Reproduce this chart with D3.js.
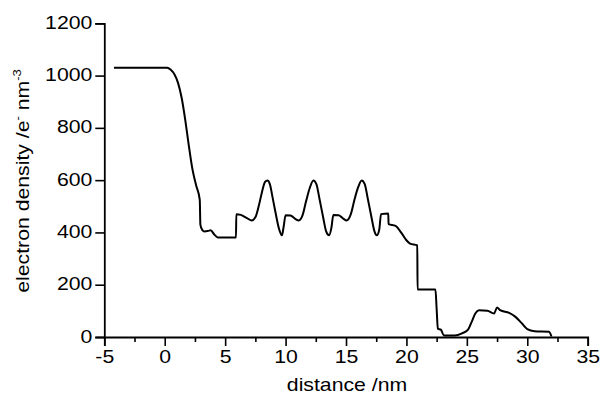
<!DOCTYPE html>
<html>
<head>
<meta charset="utf-8">
<script src="https://cdn.jsdelivr.net/npm/d3@7"></script>
<style>
  html, body { margin: 0; padding: 0; background: #fff; }
  svg { display: block; }
  text { font-family: "Liberation Sans", Arial, Helvetica, sans-serif; fill: #000; }
</style>
</head>
<body>
<svg id="chart" width="600" height="396"></svg>
<script>
// ---- data ----
const distance = [-4.2, 0.2, 0.5, 0.8, 1.1, 1.4, 1.7, 2.0, 2.3, 2.6, 2.9, 2.95, 3.1, 3.3, 3.6, 3.8, 4.1, 4.4, 5.9, 5.92,
  6.3, 6.8, 7.2, 7.5, 7.8, 8.05, 8.3, 8.5, 8.7, 8.9, 9.15, 9.45, 9.7, 9.85, 10.0, 10.4, 10.8, 11.1, 11.4, 11.7,
  12.0, 12.3, 12.55, 12.8, 13.1, 13.35, 13.6, 13.8, 13.95, 14.4, 14.8, 15.05, 15.4, 15.7, 16.0, 16.3, 16.55, 16.8,
  17.1, 17.35, 17.55, 17.75, 17.9, 18.5, 18.52, 19.1, 19.6, 20.0, 20.3, 20.9, 20.92, 22.4, 22.5, 22.6, 22.85,
  23.1, 24.0, 24.6, 25.1, 25.4, 25.7, 26.0, 26.7, 27.25, 27.5, 27.75, 28.5, 29.0, 29.5, 30.0, 30.6, 31.8, 32.0];
const density = [1030, 1030, 1022, 1005, 972, 915, 830, 730, 640, 580, 525, 430, 410, 404, 406, 408, 392, 381, 381, 470,
  467, 455, 446, 458, 505, 555, 593, 599, 585, 540, 480, 415, 389, 425, 466, 465, 452, 446, 465, 520,
  570, 599, 585, 530, 460, 405, 389, 420, 467, 466, 452, 446, 470, 525, 572, 599, 585, 530,
  460, 405, 389, 410, 470, 472, 432, 425, 397, 370, 357, 350, 182, 182, 108, 32, 28,
  6, 6, 14, 28, 58, 90, 102, 100, 90, 113, 103, 92, 78, 55, 30, 22, 20, 2];
const xTicks = [-5, 0, 5, 10, 15, 20, 25, 30, 35];
const xMinorTicks = [-2.5, 2.5, 7.5, 12.5, 17.5, 22.5, 27.5, 32.5];
const yTicks = [0, 200, 400, 600, 800, 1000, 1200];
const xTitle = "distance /nm";

// ---- chart ----
const svg = d3.select("#chart");
const x = d3.scaleLinear().domain([-5, 35]).range([104.3, 587.7]);
const y = d3.scaleLinear().domain([0, 1200]).range([337, 23.3]);

const pts = distance.map((d, i) => [d, density[i]]);

svg.append("path")
  .datum(pts)
  .attr("fill", "none")
  .attr("stroke", "#000")
  .attr("stroke-width", 2)
  .attr("stroke-linejoin", "round")
  .attr("d", d3.line().curve(d3.curveMonotoneX).x(d => x(d[0])).y(d => y(d[1])));

const fs = 18, sx = 1.18;
const fmt = d => String(d);

const gx = svg.append("g").attr("transform", `translate(0,${y(0)})`)
  .call(d3.axisBottom(x).tickValues(xTicks).tickSize(9).tickPadding(4).tickFormat(fmt));
const gxm = svg.append("g").attr("transform", `translate(0,${y(0)})`)
  .call(d3.axisBottom(x).tickValues(xMinorTicks).tickSize(5).tickFormat(""));
gxm.select(".domain").remove();

const gy = svg.append("g").attr("transform", `translate(${x(-5)},0)`)
  .call(d3.axisLeft(y).tickValues(yTicks).tickSize(9).tickPadding(3).tickFormat(fmt));

[gx, gxm, gy].forEach(g => {
  g.selectAll(".domain").attr("stroke", "#000").attr("stroke-width", 1.8);
  g.selectAll(".tick line").attr("stroke", "#000").attr("stroke-width", 1.6);
  g.selectAll(".tick text").attr("font-size", fs).attr("font-family", "Liberation Sans, Arial, sans-serif").attr("fill", "#000");
});
gx.selectAll(".tick text").attr("transform", `scale(${sx},1)`);
gy.selectAll(".tick text").each(function() {
  const t = d3.select(this);
  const xv = +t.attr("x");
  t.attr("x", xv / sx).attr("dy", "0.28em").attr("transform", `scale(${sx},1)`);
});

svg.append("text")
  .attr("transform", `translate(${(x(-5) + x(35)) / 2 + 1},391) scale(${sx},1)`)
  .attr("text-anchor", "middle")
  .attr("font-size", fs)
  .text(xTitle);

const yl = svg.append("text")
  .attr("transform", `translate(29,181) rotate(-90) scale(${sx},1)`)
  .attr("text-anchor", "middle")
  .attr("font-size", fs);
yl.append("tspan").text("electron density /e");
yl.append("tspan").attr("font-size", 11).attr("dy", -8).text("-");
yl.append("tspan").attr("dy", 8).text(" nm");
yl.append("tspan").attr("font-size", 11).attr("dy", -8).text("-3");
</script>
</body>
</html>
